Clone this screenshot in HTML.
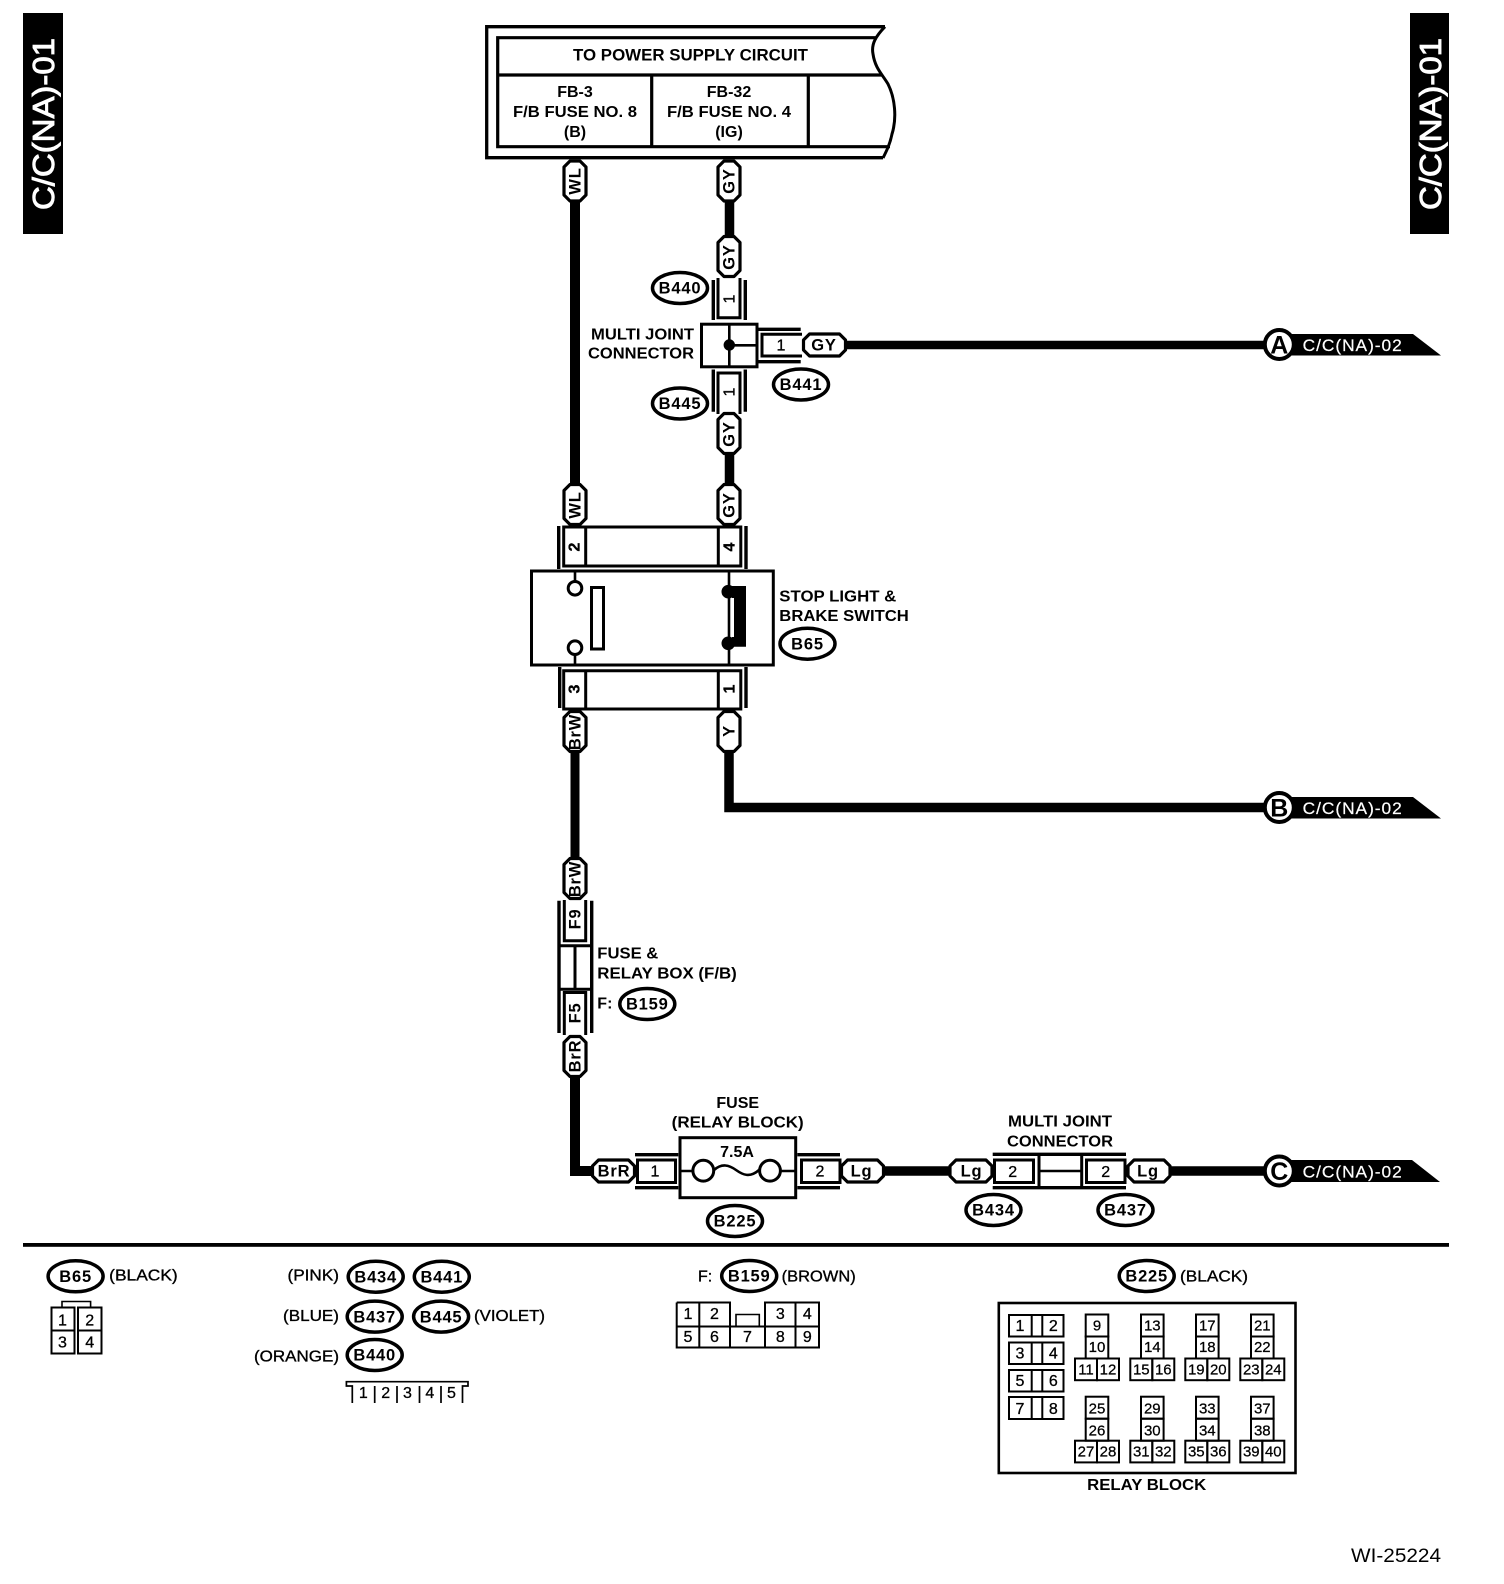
<!DOCTYPE html>
<html><head><meta charset="utf-8"><title>Wiring diagram C/C(NA)-01</title>
<style>
html,body{margin:0;padding:0;background:#fff}
svg{display:block}
text{font-family:"Liberation Sans",sans-serif;fill:#000}
.b{font-weight:bold;font-size:16px}
.c{text-anchor:middle}
.e{text-anchor:end}
.p{font-weight:bold;font-size:16.5px;text-anchor:middle;letter-spacing:.8px}
.n{font-size:16px;text-anchor:middle;stroke:#000;stroke-width:.3px}
.s{font-size:15px;text-anchor:middle;stroke:#000;stroke-width:.25px}
.w{fill:#fff;font-size:16.5px;letter-spacing:.9px;stroke:#fff;stroke-width:.2px}
.l{fill:none;stroke:#000;stroke-width:3}
.t{fill:none;stroke:#000;stroke-width:2}
.wire{fill:none;stroke:#000;stroke-width:9.5;stroke-linejoin:miter}
.pill{fill:#fff;stroke:#000;stroke-width:3.2;stroke-linejoin:round}
.ell{fill:#fff;stroke:#000;stroke-width:3.5}
.ring{fill:#fff;stroke:#000;stroke-width:4}
.letter{font-weight:bold;font-size:25px;text-anchor:middle}
.m{font-weight:normal;stroke:#000;stroke-width:.35px}
</style></head><body>
<svg width="1504" height="1584" viewBox="0 0 1504 1584" xmlns="http://www.w3.org/2000/svg">
<defs>
<path id="vp" class="pill" d="M-5,1.5 H5 L11,7.5 V35.5 L5,41.5 H-5 L-11,35.5 V7.5 Z"/>
<path id="hp" class="pill" d="M7.5,-11 H37.5 L43.5,-5 V5 L37.5,11 H7.5 L1.5,5 V-5 Z"/>
<ellipse id="el" class="ell" rx="27.5" ry="15.5"/>
<g id="rg">
<rect class="t" x="0" y="0" width="22.6" height="22"/>
<rect class="t" x="0" y="22" width="22.6" height="22"/>
<rect class="t" x="-10.7" y="44" width="22" height="21.7"/>
<rect class="t" x="11.3" y="44" width="22" height="21.7"/>
</g>
</defs>

<!-- side tabs -->
<rect x="23" y="13" width="40" height="221" fill="#000"/>
<text transform="translate(54,210) rotate(-90)" style="fill:#fff;font-size:31px;stroke:#fff;stroke-width:.9px" textLength="172" lengthAdjust="spacingAndGlyphs">C/C(NA)-01</text>
<rect x="1410" y="13" width="39" height="221" fill="#000"/>
<text transform="translate(1441,210) rotate(-90)" style="fill:#fff;font-size:31px;stroke:#fff;stroke-width:.9px" textLength="172" lengthAdjust="spacingAndGlyphs">C/C(NA)-01</text>

<!-- header -->
<path d="M885,26.7 H486.7 V157.7 H883" fill="none" stroke="#000" stroke-width="3.3"/>
<path d="M885,26.7 C876,36 871,44 873,54 C875,68 882,74 888,84 C895,98 897,118 892,134 C890,144 887,150 883,158" fill="none" stroke="#000" stroke-width="3"/>
<path d="M877,37.7 H497.7 V146.7 H890 M497.7,75 H882 M651.7,75 V146.7 M808.3,75 V146.7" fill="none" stroke="#000" stroke-width="3.2"/>
<text class="b c" x="690.5" y="60.7" style="font-size:16.5px" textLength="235" lengthAdjust="spacingAndGlyphs">TO POWER SUPPLY CIRCUIT</text>
<text class="b c" x="575" y="97">FB-3</text>
<text class="b c" x="575" y="117" textLength="124" lengthAdjust="spacingAndGlyphs">F/B FUSE NO. 8</text>
<text class="b c" x="575" y="137">(B)</text>
<text class="b c" x="729" y="97">FB-32</text>
<text class="b c" x="729" y="117" textLength="124" lengthAdjust="spacingAndGlyphs">F/B FUSE NO. 4</text>
<text class="b c" x="729" y="137">(IG)</text>

<!-- wires -->
<path class="wire" d="M575,200 V485" style="stroke-width:10"/>
<path class="wire" d="M729.5,200 V237"/>
<path class="wire" d="M729.5,453 V485"/>
<path class="wire" d="M845,345 H1265" style="stroke-width:8.5"/>
<path class="wire" d="M575,751 V859" style="stroke-width:9"/>
<path class="wire" d="M729,751 V807.5 H1265" style="stroke-width:9.5"/>
<path class="wire" d="M575,1075 V1171 H593" style="stroke-width:10"/>
<path class="wire" d="M882,1171 H951"/>
<path class="wire" d="M1168,1171 H1265"/>

<!-- vertical pills -->
<use href="#vp" x="575" y="159.5"/><text class="p" transform="translate(575,181) rotate(-90)" y="5.5">WL</text>
<use href="#vp" x="729" y="159.5"/><text class="p" transform="translate(729,181) rotate(-90)" y="5.5">GY</text>
<use href="#vp" x="729" y="235"/><text class="p" transform="translate(729,257) rotate(-90)" y="5.5">GY</text>
<use href="#vp" x="729" y="412"/><text class="p" transform="translate(729,434) rotate(-90)" y="5.5">GY</text>
<use href="#vp" x="575" y="483"/><text class="p" transform="translate(575,505) rotate(-90)" y="5.5">WL</text>
<use href="#vp" x="729" y="483"/><text class="p" transform="translate(729,505) rotate(-90)" y="5.5">GY</text>
<use href="#vp" x="575" y="710"/><text class="p" transform="translate(575,732) rotate(-90)" y="5.5">BrW</text>
<use href="#vp" x="729" y="710"/><text class="p" transform="translate(729,731) rotate(-90)" y="5.5">Y</text>
<use href="#vp" x="575" y="857"/><text class="p" transform="translate(575,879) rotate(-90)" y="5.5">BrW</text>
<use href="#vp" x="575" y="1035"/><text class="p" transform="translate(575,1056) rotate(-90)" y="5.5">BrR</text>

<!-- multi joint vertical -->
<path d="M713.3,280 V320 M745.3,280 V320 M713.3,369.5 V411.7 M745.3,369.5 V411.7" fill="none" stroke="#000" stroke-width="3.4"/>
<path class="l" d="M718,278 V317.7 H740 V278"/>
<path class="l" d="M718,414 V373 H740 V414"/>
<text class="n" transform="translate(729,299) rotate(-90)" y="5.5">1</text>
<text class="n" transform="translate(729,392) rotate(-90)" y="5.5">1</text>
<path fill="none" stroke="#000" stroke-width="3.4" d="M758,329.3 H800.7 M758,361.7 H800.7"/>
<path class="l" d="M802,334.3 H762 V356 H802"/>
<text class="n" x="781" y="350.7">1</text>
<use href="#hp" x="802" y="345"/><text class="p" x="824" y="350.7">GY</text>
<rect class="l" x="701.5" y="324.2" width="55.5" height="42.6" fill="#fff"/>
<path d="M729.3,324 V367 M729.3,345.3 H757" fill="none" stroke="#000" stroke-width="2.6"/>
<circle cx="729.3" cy="345" r="5.7"/>
<use href="#el" x="680" y="288"/><text class="p" x="680" y="293.7">B440</text>
<use href="#el" x="680" y="403.5"/><text class="p" x="680" y="409.2">B445</text>
<use href="#el" x="801" y="384.5"/><text class="p" x="801" y="390.2">B441</text>
<text class="b e" x="694" y="339.3" textLength="103" lengthAdjust="spacingAndGlyphs">MULTI JOINT</text>
<text class="b e" x="694" y="358.3" textLength="106" lengthAdjust="spacingAndGlyphs">CONNECTOR</text>

<!-- switch -->
<path class="l" d="M558.7,526 V569 M746,526 V569 M559.7,667 V708 M746,667 V708" style="stroke-width:3.4"/>
<path class="l" d="M563.7,527 H740.8 V566 H563.7 Z M585.7,527 V566 M718.3,527 V566"/>
<path class="l" d="M563.7,670.7 H740.8 V709 H563.7 Z M585.7,670.7 V709 M718.3,670.7 V709"/>
<text class="n" transform="translate(574,547) rotate(-90)" y="5.5" style="font-weight:bold">2</text>
<text class="n" transform="translate(729,547) rotate(-90)" y="5.5" style="font-weight:bold">4</text>
<text class="n" transform="translate(574,689) rotate(-90)" y="5.5" style="font-weight:bold">3</text>
<text class="n" transform="translate(729,689) rotate(-90)" y="5.5" style="font-weight:bold">1</text>
<rect class="l" x="531.5" y="571" width="241.8" height="94"/>
<path d="M575,571 V582 M575,654 V665 M729,571 V665" fill="none" stroke="#000" stroke-width="2.6"/>
<circle class="l" cx="575" cy="588.3" r="6.8"/>
<circle class="l" cx="575" cy="647.7" r="6.8"/>
<rect class="l" x="591.5" y="587.5" width="12" height="61.5"/>
<circle cx="728.3" cy="591.7" r="6.8"/>
<circle cx="728.3" cy="643.3" r="6.8"/>
<path d="M732,586 H746 V646.7 H732 V637 H734 V598 H732 Z"/>
<text class="b" x="779.3" y="601.7" textLength="117" lengthAdjust="spacingAndGlyphs">STOP LIGHT &amp;</text>
<text class="b" x="779.3" y="621" textLength="129.5" lengthAdjust="spacingAndGlyphs">BRAKE SWITCH</text>
<use href="#el" x="807.5" y="643.7"/><text class="p" x="807.5" y="649.4">B65</text>

<!-- fuse & relay box -->
<path class="l" d="M559,900.7 V1033 M591.7,900.7 V1033" style="stroke-width:3.4"/>
<path class="l" d="M564.3,900 V940.7 H585.7 V900"/>
<path class="l" d="M559,945.7 H591.7 M559,989.3 H591.7 M575,945.7 V989.3"/>
<path class="l" d="M564.3,1035 V992.5 H585.7 V1035"/>
<text class="p" transform="translate(575,919) rotate(-90)" y="5.5">F9</text>
<text class="p" transform="translate(575,1013) rotate(-90)" y="5.5">F5</text>
<text class="b" x="597.3" y="958.3" textLength="61" lengthAdjust="spacingAndGlyphs">FUSE &amp;</text>
<text class="b" x="597.3" y="978.3" textLength="139.5" lengthAdjust="spacingAndGlyphs">RELAY BOX (F/B)</text>
<text class="b" x="597.3" y="1008.3">F:</text>
<use href="#el" x="647.3" y="1004"/><text class="p" x="647.3" y="1009.7">B159</text>

<!-- fuse relay block -->
<use href="#hp" x="591" y="1171"/><text class="p" x="614" y="1176.7">BrR</text>
<path fill="none" stroke="#000" stroke-width="3.4" d="M635,1154.7 H678.3 M635,1187.7 H678.3 M797.3,1154.7 H840 M797.3,1187.7 H840"/>
<rect class="l" x="637.5" y="1160" width="38" height="22.5"/>
<rect class="l" x="801.5" y="1160" width="38.5" height="22.5"/>
<text class="n" x="655" y="1176.7">1</text>
<text class="n" x="820" y="1176.7">2</text>
<use href="#hp" x="840" y="1171"/><text class="p" x="861.5" y="1176.7">Lg</text>
<rect class="l" x="680" y="1137.7" width="115.7" height="60"/>
<path d="M680,1171 H692.5 M781,1171 H795.7" class="l" style="stroke-width:2.6"/>
<circle class="l" cx="703.3" cy="1170.7" r="10.4"/>
<circle class="l" cx="770" cy="1170.7" r="10.4"/>
<path class="l" d="M714,1170 C722,1163 729,1165 736,1170 S750,1178 759,1170" style="stroke-width:2.6"/>
<text class="b c" x="737" y="1157">7.5A</text>
<text class="b c" x="737.7" y="1108">FUSE</text>
<text class="b c" x="737.7" y="1127.7" textLength="132" lengthAdjust="spacingAndGlyphs">(RELAY BLOCK)</text>
<use href="#el" x="735" y="1221"/><text class="p" x="735" y="1226.7">B225</text>

<!-- multi joint bottom -->
<use href="#hp" x="948.5" y="1171"/><text class="p" x="971.5" y="1176.7">Lg</text>
<path fill="none" stroke="#000" stroke-width="3.4" d="M992.7,1154.3 H1126 M992.7,1187.7 H1126"/>
<rect class="l" x="994.5" y="1160" width="39" height="22.5"/>
<rect class="l" x="1086.5" y="1160" width="38.5" height="22.5"/>
<path class="l" d="M1039,1154.3 V1187.7 M1081.7,1154.3 V1187.7"/>
<path d="M1039,1171 H1081.7" class="l" style="stroke-width:2.6"/>
<text class="n" x="1012.7" y="1177">2</text>
<text class="n" x="1105.7" y="1177">2</text>
<use href="#hp" x="1126.5" y="1171"/><text class="p" x="1148" y="1176.7">Lg</text>
<use href="#el" x="993.5" y="1210"/><text class="p" x="993.5" y="1215.7">B434</text>
<use href="#el" x="1125.5" y="1210"/><text class="p" x="1125.5" y="1215.7">B437</text>
<text class="b c" x="1060" y="1126.7" textLength="104" lengthAdjust="spacingAndGlyphs">MULTI JOINT</text>
<text class="b c" x="1060" y="1146.7" textLength="106" lengthAdjust="spacingAndGlyphs">CONNECTOR</text>

<!-- off-page tags -->
<path d="M1285,334 H1413 L1441,355.5 H1285 Z"/>
<circle class="ring" cx="1279.3" cy="344.5" r="14.5"/>
<text class="letter" x="1279.3" y="353.5">A</text>
<text class="w" x="1302.7" y="351" textLength="100" lengthAdjust="spacingAndGlyphs">C/C(NA)-02</text>
<path d="M1285,797 H1413 L1441,818.5 H1285 Z"/>
<circle class="ring" cx="1279.3" cy="807.5" r="14.5"/>
<text class="letter" x="1279.3" y="816.5">B</text>
<text class="w" x="1302.7" y="814" textLength="100" lengthAdjust="spacingAndGlyphs">C/C(NA)-02</text>
<path d="M1285,1160 H1412 L1440,1182 H1285 Z"/>
<circle class="ring" cx="1279.3" cy="1171" r="14.5"/>
<text class="letter" x="1279.3" y="1180">C</text>
<text class="w" x="1302.7" y="1177.3" textLength="100" lengthAdjust="spacingAndGlyphs">C/C(NA)-02</text>

<!-- divider -->
<rect x="23" y="1243" width="1426" height="3.8"/>

<!-- legend left -->
<use href="#el" x="75.6" y="1276.3"/><text class="p" x="75.6" y="1282">B65</text>
<text class="b m" x="109.2" y="1280.7" textLength="68.5" lengthAdjust="spacingAndGlyphs">(BLACK)</text>
<rect class="t" x="51.5" y="1307.5" width="23" height="23"/><rect class="t" x="51.5" y="1330.5" width="23" height="23"/>
<rect class="t" x="78" y="1307.5" width="23.5" height="23"/><rect class="t" x="78" y="1330.5" width="23.5" height="23"/>
<path d="M62,1307.5 V1301.5 H90.6 V1307.5" fill="none" stroke="#000" stroke-width="1.6"/>
<text class="n" x="62.5" y="1325.5">1</text><text class="n" x="89.7" y="1325.5">2</text>
<text class="n" x="62.5" y="1347.5">3</text><text class="n" x="89.7" y="1347.5">4</text>

<!-- legend middle -->
<text class="b e m" x="339" y="1280.7" textLength="51.5" lengthAdjust="spacingAndGlyphs">(PINK)</text>
<use href="#el" x="375.7" y="1276.7"/><text class="p" x="375.7" y="1282.4">B434</text>
<use href="#el" x="441.8" y="1276.7"/><text class="p" x="441.8" y="1282.4">B441</text>
<text class="b e m" x="339" y="1321" textLength="56" lengthAdjust="spacingAndGlyphs">(BLUE)</text>
<use href="#el" x="374.7" y="1316.6"/><text class="p" x="374.7" y="1322.3">B437</text>
<use href="#el" x="441.1" y="1316.6"/><text class="p" x="441.1" y="1322.3">B445</text>
<text class="b m" x="474" y="1321" textLength="71" lengthAdjust="spacingAndGlyphs">(VIOLET)</text>
<text class="b e m" x="339" y="1361.5" textLength="85" lengthAdjust="spacingAndGlyphs">(ORANGE)</text>
<use href="#el" x="374.7" y="1355"/><text class="p" x="374.7" y="1360.7">B440</text>
<path d="M352.3,1403 V1386 H346.4 V1381.7 H468 V1386 H462.5 V1403 M374.7,1386 V1403 M397,1386 V1403 M419.5,1386 V1403 M441,1386 V1403" fill="none" stroke="#000" stroke-width="1.7"/>
<text class="n" x="363.3" y="1398">1</text><text class="n" x="385.7" y="1398">2</text><text class="n" x="407.4" y="1398">3</text><text class="n" x="429.8" y="1398">4</text><text class="n" x="451.5" y="1398">5</text>

<!-- legend F:B159 -->
<text class="b m" x="698" y="1281.7">F:</text>
<use href="#el" x="749.2" y="1276"/><text class="p" x="749.2" y="1281.7">B159</text>
<text class="b m" x="781.7" y="1281.7" textLength="74" lengthAdjust="spacingAndGlyphs">(BROWN)</text>
<path class="t" d="M676.7,1326.5 H819 M676.7,1302.5 H730 V1326.5 M765,1326.5 V1302.5 H819 V1347.5 H676.7 V1302.5 M699.3,1302.5 V1347.5 M730,1326.5 V1347.5 M765,1326.5 V1347.5 M795.5,1302.5 V1347.5"/>
<path d="M736,1326.5 V1314.5 H759.3 V1326.5" fill="none" stroke="#000" stroke-width="1.6"/>
<text class="n" x="688" y="1319">1</text><text class="n" x="714.5" y="1319">2</text><text class="n" x="780.3" y="1319">3</text><text class="n" x="807.3" y="1319">4</text>
<text class="n" x="688" y="1342">5</text><text class="n" x="714.5" y="1342">6</text><text class="n" x="747.5" y="1342">7</text><text class="n" x="780.3" y="1342">8</text><text class="n" x="807.3" y="1342">9</text>

<!-- legend relay block -->
<use href="#el" x="1146.7" y="1276"/><text class="p" x="1146.7" y="1281.7">B225</text>
<text class="b m" x="1180" y="1281.7" textLength="68" lengthAdjust="spacingAndGlyphs">(BLACK)</text>
<rect x="998.8" y="1303" width="296.7" height="170" fill="none" stroke="#000" stroke-width="2.6"/>
<g class="t">
<path d="M1009,1315 H1063.5 V1336.5 H1009 Z M1031.7,1315 V1336.5 M1042.3,1315 V1336.5"/>
<path d="M1009,1342.5 H1063.5 V1364 H1009 Z M1031.7,1342.5 V1364 M1042.3,1342.5 V1364"/>
<path d="M1009,1370 H1063.5 V1391.5 H1009 Z M1031.7,1370 V1391.5 M1042.3,1370 V1391.5"/>
<path d="M1009,1397 H1063.5 V1419 H1009 Z M1031.7,1397 V1419 M1042.3,1397 V1419"/>
</g>
<text class="n" x="1020" y="1331">1</text><text class="n" x="1053.3" y="1331">2</text>
<text class="n" x="1020" y="1358.5">3</text><text class="n" x="1053.3" y="1358.5">4</text>
<text class="n" x="1020" y="1386">5</text><text class="n" x="1053.3" y="1386">6</text>
<text class="n" x="1020" y="1414">7</text><text class="n" x="1053.3" y="1414">8</text>

<use href="#rg" x="1085.7" y="1314.5"/><use href="#rg" x="1141" y="1314.5"/><use href="#rg" x="1196" y="1314.5"/><use href="#rg" x="1251" y="1314.5"/>
<use href="#rg" x="1085.7" y="1396.7"/><use href="#rg" x="1141" y="1396.7"/><use href="#rg" x="1196" y="1396.7"/><use href="#rg" x="1251" y="1396.7"/>

<text class="s" x="1097" y="1330.5">9</text><text class="s" x="1097" y="1352">10</text><text class="s" x="1086" y="1374.5">11</text><text class="s" x="1108" y="1374.5">12</text>
<text class="s" x="1152.3" y="1330.5">13</text><text class="s" x="1152.3" y="1352">14</text><text class="s" x="1141.3" y="1374.5">15</text><text class="s" x="1163.3" y="1374.5">16</text>
<text class="s" x="1207.3" y="1330.5">17</text><text class="s" x="1207.3" y="1352">18</text><text class="s" x="1196.3" y="1374.5">19</text><text class="s" x="1218.3" y="1374.5">20</text>
<text class="s" x="1262.3" y="1330.5">21</text><text class="s" x="1262.3" y="1352">22</text><text class="s" x="1251.3" y="1374.5">23</text><text class="s" x="1273.3" y="1374.5">24</text>

<text class="s" x="1097" y="1413.7">25</text><text class="s" x="1097" y="1435.3">26</text><text class="s" x="1086" y="1456.5">27</text><text class="s" x="1108" y="1456.5">28</text>
<text class="s" x="1152.3" y="1413.7">29</text><text class="s" x="1152.3" y="1435.3">30</text><text class="s" x="1141.3" y="1456.5">31</text><text class="s" x="1163.3" y="1456.5">32</text>
<text class="s" x="1207.3" y="1413.7">33</text><text class="s" x="1207.3" y="1435.3">34</text><text class="s" x="1196.3" y="1456.5">35</text><text class="s" x="1218.3" y="1456.5">36</text>
<text class="s" x="1262.3" y="1413.7">37</text><text class="s" x="1262.3" y="1435.3">38</text><text class="s" x="1251.3" y="1456.5">39</text><text class="s" x="1273.3" y="1456.5">40</text>

<text class="b c" x="1146.7" y="1490" textLength="119" lengthAdjust="spacingAndGlyphs">RELAY BLOCK</text>

<text x="1351" y="1562" style="font-size:19px" textLength="90" lengthAdjust="spacingAndGlyphs">WI-25224</text>
</svg>
</body></html>
